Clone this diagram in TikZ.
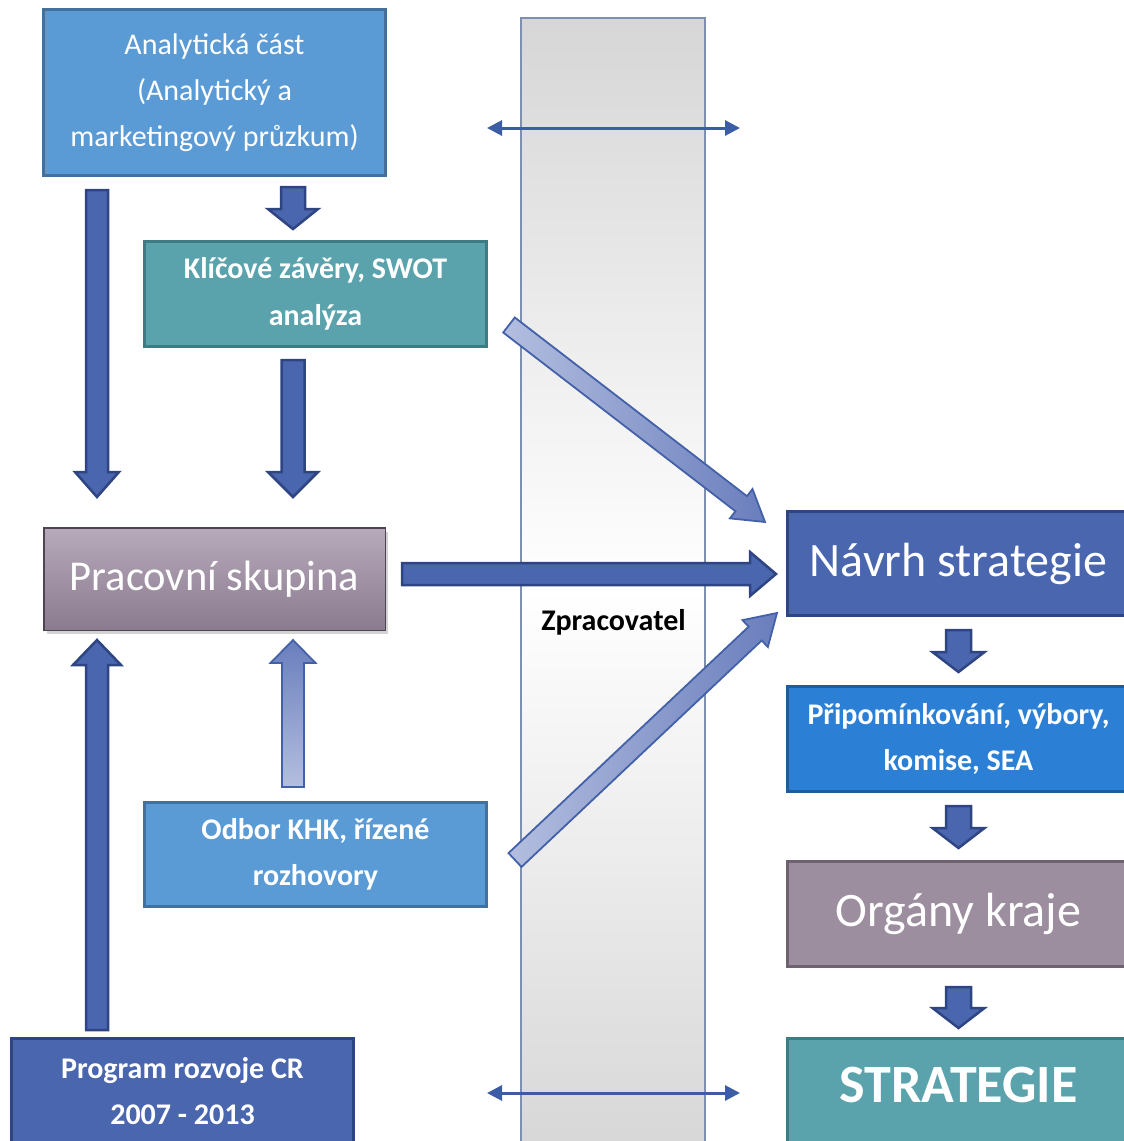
\documentclass[tikz,border=0pt]{standalone}
\usepackage{fontspec}
\setmainfont{Carlito}
\usetikzlibrary{calc,arrows.meta,shadows}

\definecolor{skyfill}{HTML}{5B9BD5}
\definecolor{skyline}{HTML}{41719C}
\definecolor{tealfill}{HTML}{5AA3AC}
\definecolor{tealline}{HTML}{3D7C85}
\definecolor{navyfill}{HTML}{4A66AE}
\definecolor{navyline}{HTML}{2F4583}
\definecolor{brightfill}{HTML}{2B7FD5}
\definecolor{brightline}{HTML}{1F5C9C}
\definecolor{mauvefill}{HTML}{9C8E9F}
\definecolor{mauveline}{HTML}{6E6271}
\definecolor{mauvetop}{HTML}{B7AABB}
\definecolor{mauvebot}{HTML}{8A7B8E}
\definecolor{paletail}{HTML}{B3BEDF}
\definecolor{palehead}{HTML}{6A7EBD}
\definecolor{paleline}{HTML}{4361A9}
\definecolor{bandgray}{HTML}{D6D6D6}
\definecolor{bandline}{HTML}{7F90AE}
\definecolor{linkblue}{HTML}{3C5CA6}

% block arrow: [style]{from}{to}{shaft half width}{head half width}{head length}
\newcommand{\blockarrow}[6][]{%
  \draw[#1] let \p1 = ($(#3)!#6!(#2)$) in
    ($(#2)!#4!90:(#3)$) -- ($(\p1)!#4!-90:(#2)$) -- ($(\p1)!#5!-90:(#2)$) -- (#3)
    -- ($(\p1)!#5!90:(#2)$) -- ($(\p1)!#4!90:(#2)$) -- ($(#2)!#4!-90:(#3)$) -- cycle;
}

\begin{document}
\begin{tikzpicture}[x=1pt, y=-1pt,
    box/.style={rectangle, draw, line width=3pt, minimum width=342pt, minimum height=105pt, align=center, text=white},
    plain/.style={font=\fontsize{30}{46}\selectfont},
    heavy/.style={font=\fontsize{30}{46.5}\selectfont\bfseries},
    big/.style={font=\fontsize{48}{54}\selectfont},
    darkarrow/.style={fill=navyfill, draw=navyline, line width=2.5pt, line join=miter},
    palearrow/.style={draw=paleline, line width=1.8pt, line join=miter},
    linkline/.style={draw=linkblue, line width=3pt, {Triangle[length=15pt,width=15pt]}-{Triangle[length=15pt,width=15pt]}}]
  \clip (0,0) rectangle (1124,1141);
  % Band
  \node[draw=bandline, line width=2pt, minimum width=184pt, minimum height=1144pt, top color=bandgray, bottom color=bandgray, middle color=white] (band) at (613,590) {};
  \node[font=\fontsize{30}{34}\selectfont\bfseries] (zlbl) at (613.5,622) {Zpracovatel};
  \coordinate (l1a) at (487,128);
  \coordinate (l1b) at (740,128);
  \coordinate (l2a) at (487,1093);
  \coordinate (l2b) at (740,1093);
  \draw[linkline] (l1a) -- (l1b);
  \draw[linkline] (l2a) -- (l2b);
  % Nodes
  \node[box, plain, fill=skyfill, draw=skyline, minimum height=166pt] (A) at (214.5,92.5) {Analytická část\\(Analytický a\\marketingový průzkum)};
  \node[box, heavy, fill=tealfill, draw=tealline] (K) at (315.5,294) {Klíčové závěry, SWOT\\analýza};
  \node[box, font=\fontsize{42.5}{48}\selectfont, top color=mauvetop, bottom color=mauvebot, draw=mauveline!70!black, line width=1.5pt, minimum width=341.5pt, minimum height=102.5pt, drop shadow={opacity=0.35, shadow xshift=3pt, shadow yshift=-4pt}] (P) at (214.5,579) {Pracovní skupina};
  \node[box, heavy, fill=skyfill, draw=skyline, minimum height=104pt] (O) at (315.5,854.5) {Odbor KHK, řízené\\rozhovory};
  \node[box, heavy, fill=navyfill, draw=navyline] (Prog) at (182.5,1091) {Program rozvoje CR\\2007 - 2013};
  \node[box, big, fill=navyfill, draw=navyline, minimum height=104pt] (N) at (958.5,563.5) {Návrh strategie};
  \node[box, heavy, fill=brightfill, draw=brightline] (R) at (958.5,739) {Připomínkování, výbory,\\komise, SEA};
  \node[box, big, fill=mauvefill, draw=mauveline] (G) at (958.5,914) {Orgány kraje};
  \node[box, font=\fontsize{54}{60}\selectfont\bfseries, fill=tealfill, draw=tealline, text depth=12pt] (S) at (958.5,1091) {STRATEGIE};
  % Arrows
  \coordinate (lane1) at (97,0);
  \coordinate (lane2) at (293,0);
  \coordinate (a1s) at ($(A.south -| lane1)+(0,13)$);
  \coordinate (a1e) at ($(P.north -| lane1)+(0,-30)$);
  \coordinate (a2s) at ($(A.south -| lane2)+(0,10)$);
  \coordinate (a2e) at ($(K.north -| lane2)+(0,-11)$);
  \coordinate (a3s) at ($(K.south -| lane2)+(0,12)$);
  \coordinate (a3e) at ($(P.north -| lane2)+(0,-30)$);
  \coordinate (a4s) at ($(Prog.north -| lane1)+(0,-7)$);
  \coordinate (a4e) at ($(P.south -| lane1)+(0,9)$);
  \coordinate (a5s) at ($(O.north -| lane2)+(0,-14)$);
  \coordinate (a5e) at ($(P.south -| lane2)+(0,9)$);
  \coordinate (a6s) at ($(P.east)+(16,-5)$);
  \coordinate (a6e) at ($(N.west |- a6s)+(-10,0)$);
  \coordinate (a7s) at ($(K.east)+(21,31)$);
  \coordinate (a7e) at ($(N.west)+(-21,-41.5)$);
  \coordinate (a8s) at ($(O.east)+(27,5.5)$);
  \coordinate (a8e) at ($(N.south west)+(-9,-4)$);
  \coordinate (a9s) at ($(N.south)+(0,13)$);
  \coordinate (a9e) at ($(R.north)+(0,-13)$);
  \coordinate (a10s) at ($(R.south)+(0,13)$);
  \coordinate (a10e) at ($(G.north)+(0,-12)$);
  \coordinate (a11s) at ($(G.south)+(0,19)$);
  \coordinate (a11e) at ($(S.north)+(0,-9)$);
  \blockarrow[darkarrow]{a1s}{a1e}{11pt}{22pt}{25pt}
  \blockarrow[darkarrow]{a2s}{a2e}{12pt}{25pt}{20pt}
  \blockarrow[darkarrow]{a3s}{a3e}{11.5pt}{25pt}{25pt}
  \blockarrow[darkarrow]{a4s}{a4e}{11pt}{24pt}{25pt}
  \blockarrow[palearrow, top color=palehead, bottom color=paletail]{a5s}{a5e}{11pt}{22.5pt}{23pt}
  \blockarrow[darkarrow]{a6s}{a6e}{11pt}{22pt}{26pt}
  \blockarrow[palearrow, left color=paletail, right color=palehead]{a7s}{a7e}{9.5pt}{18.5pt}{30pt}
  \blockarrow[palearrow, left color=paletail, right color=palehead]{a8s}{a8e}{9.5pt}{18.5pt}{30pt}
  \blockarrow[darkarrow]{a9s}{a9e}{12.5pt}{26pt}{20pt}
  \blockarrow[darkarrow]{a10s}{a10e}{12.5pt}{26pt}{20pt}
  \blockarrow[darkarrow]{a11s}{a11e}{12.5pt}{26pt}{20pt}
\end{tikzpicture}
\end{document}
